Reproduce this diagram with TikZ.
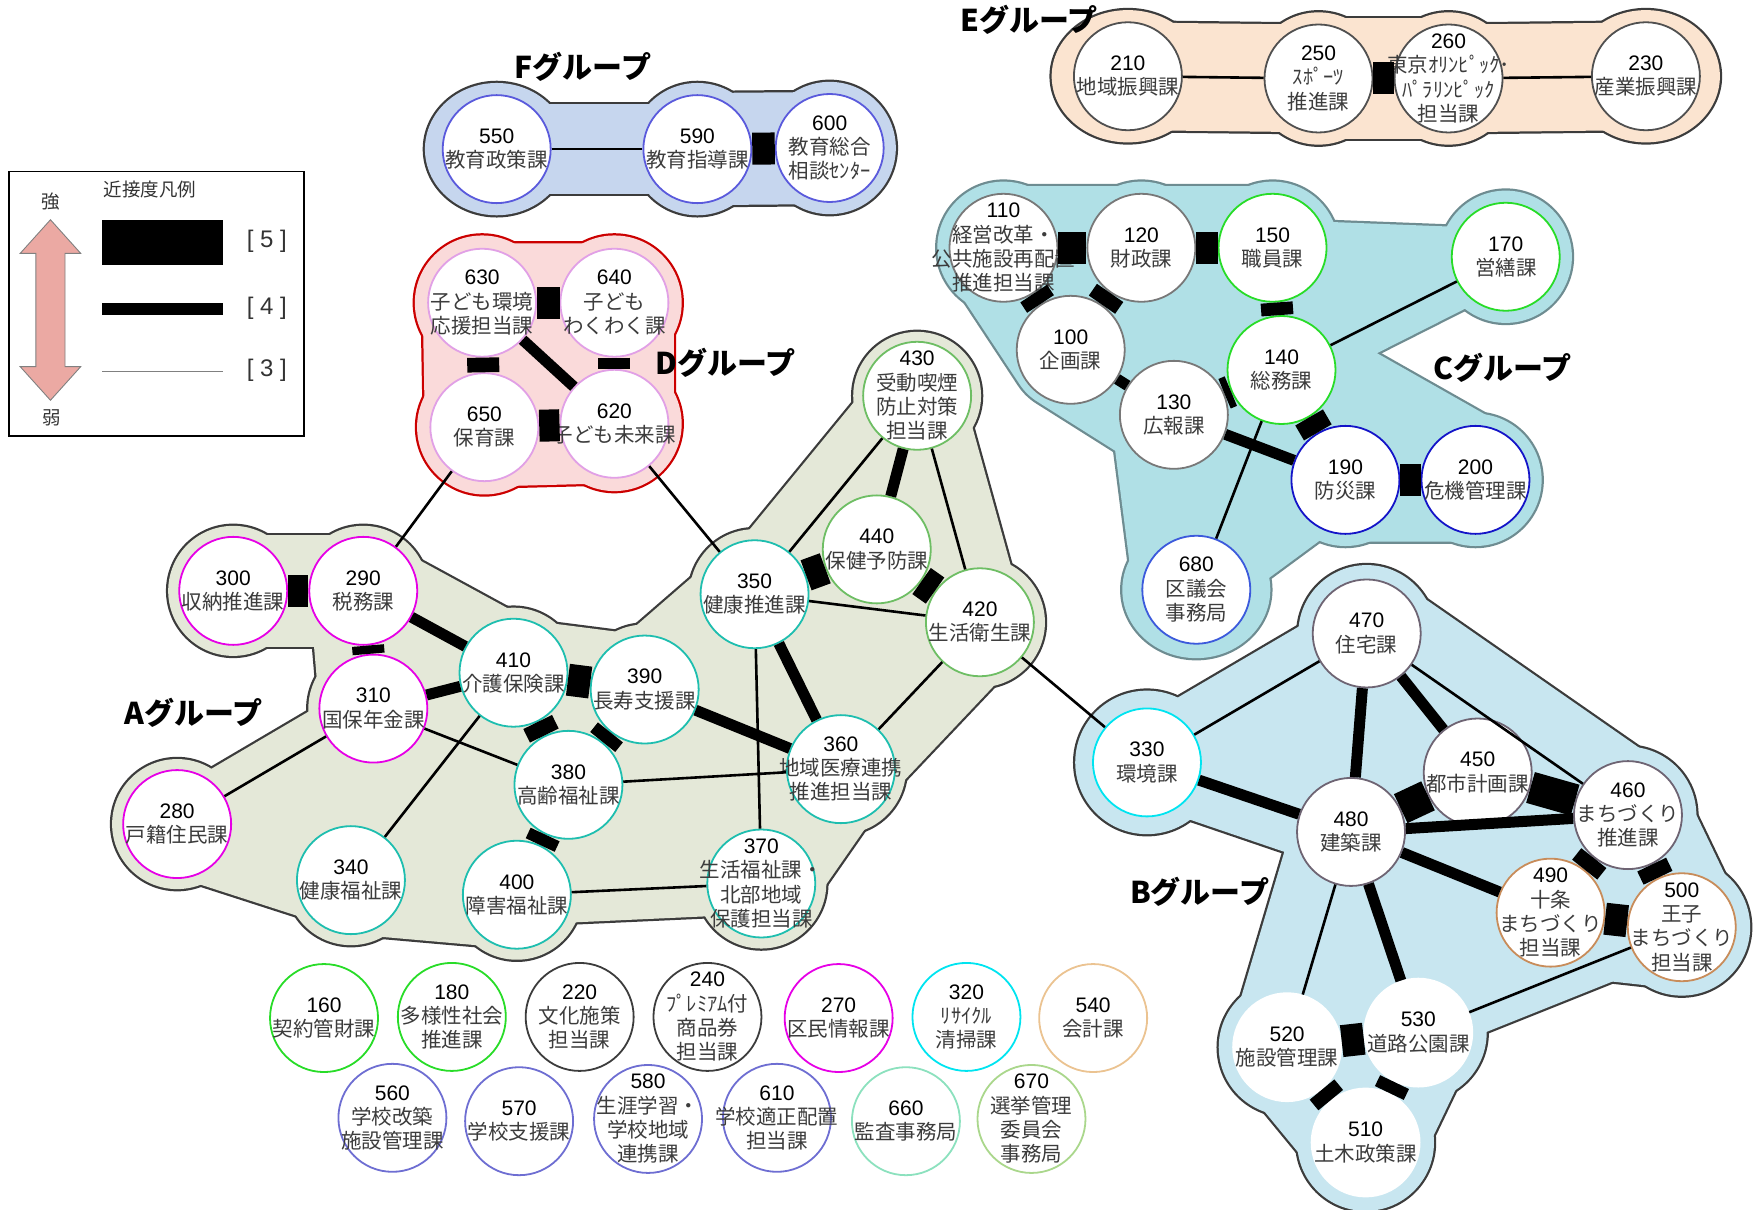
\documentclass[tikz,border=0pt]{standalone}
\usepackage{fontspec}
\setmainfont{Liberation Sans}
\newfontfamily\jp{Noto Sans CJK JP}
\newfontfamily\numf{Liberation Sans}
% group colours
\definecolor{Ffill}{RGB}{198,214,238}
\definecolor{Efill}{RGB}{251,228,208}
\definecolor{Dfill}{RGB}{250,218,218}
\definecolor{Dline}{RGB}{204,0,0}
\definecolor{Cfill}{RGB}{176,224,230}
\definecolor{Cline}{RGB}{110,140,145}
\definecolor{Afill}{RGB}{228,232,216}
\definecolor{Bfill}{RGB}{200,230,240}
\definecolor{gline}{RGB}{60,60,60}
% node outline colours
\definecolor{cF}{RGB}{90,90,220}
\definecolor{cE}{RGB}{80,80,80}
\definecolor{cD}{RGB}{225,160,230}
\definecolor{cgray}{RGB}{120,120,120}
\definecolor{cgreen}{RGB}{40,220,40}
\definecolor{cblue}{RGB}{20,20,200}
\definecolor{cblue2}{RGB}{60,90,220}
\definecolor{cmag}{RGB}{230,0,230}
\definecolor{cteal}{RGB}{30,190,175}
\definecolor{clgreen}{RGB}{110,190,100}
\definecolor{cBgray}{RGB}{110,100,115}
\definecolor{ccyan}{RGB}{0,228,240}
\definecolor{ctan}{RGB}{200,140,90}
\definecolor{cdark}{RGB}{60,60,60}
\definecolor{corange}{RGB}{235,195,145}
\definecolor{cslate}{RGB}{110,110,210}
\definecolor{caqua}{RGB}{140,225,190}
\definecolor{colive}{RGB}{170,215,140}
\definecolor{jptext}{RGB}{60,60,60}
\definecolor{arrowpink}{RGB}{235,169,163}
\newcommand\dept[3]{\node[dept,draw=#2] (n#1) at (p#1) {};
  \node[depttext] (t#1) at (p#1) {{\numf\color{black}\fontsize{21}{24.3}\selectfont #1}\\#3};}
\newcommand\blobc[3]{\fill[#1] (#2) circle[radius=#3];}
\newcommand\blobp[3]{\filldraw[#1,line join=round,line cap=round,line width={2*(#2)*1.1212pt}] #3;}
\newcommand\grpF[2]{%
  \fill[#1] (p550) ellipse[x radius=64+#2,y radius=59+#2];
  \blobc{#1}{p590}{59+#2}\blobc{#1}{p600}{59+#2}
  \blobp{#1}{40+#2}{(p550)--(p590)}
  \blobp{#1}{50+#2}{(p590)--(p600)}}
\newcommand\grpE[2]{%
  \fill[#1] (p210) ellipse[x radius=68+#2,y radius=59+#2];
  \fill[#1] (p230) ellipse[x radius=66+#2,y radius=59+#2];
  \blobc{#1}{p250}{59+#2}\blobc{#1}{p260}{59+#2}
  \blobp{#1}{48+#2}{(p210)--(p250)}
  \blobp{#1}{54+#2}{(p250)--(p260)}
  \blobp{#1}{48+#2}{(p260)--(p230)}}
\newcommand\grpD[2]{%
  \blobc{#1}{p630}{60+#2}\blobc{#1}{p640}{60+#2}\blobc{#1}{p650}{60+#2}\blobc{#1}{p620}{60+#2}
  \blobp{#1}{53+#2}{(p630)--(p640)--(p620)--(p650)--cycle}}
\newcommand\grpC[2]{%
  \blobp{#1}{55+#2}{(p110)--(p120)--(p150)--(p140)--(p200)--(p190)--(p130)--(p100)--cycle}
  \blobc{#1}{p110}{59+#2}\blobc{#1}{p120}{59+#2}\blobc{#1}{p150}{59+#2}
  \blobc{#1}{p190}{59+#2}\blobc{#1}{p200}{59+#2}
  \blobc{#1}{p170}{59+#2}
  \blobp{#1}{25+#2}{(p150)--(p170)--(p140)--cycle}
  \fill[#1] (p680) ellipse[x radius=66+#2,y radius=61+#2];
  \blobp{#1}{56+#2}{(p130)--(p680)}
  \blobp{#1}{30+#2}{(p130)--(p190)--(p680)--cycle}}
\newcommand\grpA[2]{%
  \blobp{#1}{48+#2}{(p290)--(p410)--(p390)--(p350)--(p440)--(p420)--(p360)--(p370)--(p380)--(p400)--(p340)--(p310)--cycle}
  \foreach \q in {300,290,310,410,390,280,380,340,400,350,440,420,360,370}{\blobc{#1}{p\q}{58+#2}}
  \blobc{#1}{p430}{57+#2}
  \blobp{#1}{50+#2}{(p300)--(p290)}
  \blobp{#1}{27+#2}{(p280)--(p340)--(p310)--cycle}
  \blobp{#1}{45+#2}{(p280)--(p340)}
  \blobp{#1}{27+#2}{(p380)--(p400)--(p370)--cycle}
  \blobp{#1}{40+#2}{(p350)--(p430)--(p420)--(p440)--cycle}}
\newcommand\grpB[2]{%
  \blobp{#1}{55+#2}{(p470)--(p460)--(p500)--(p490)--(p480)--cycle}
  \blobp{#1}{52+#2}{(p480)--(p530)--(p510)--(p520)--cycle}
  \blobp{#1}{22+#2}{(p480)--(p490)--(p500)--(p530)--cycle}
  \blobp{#1}{36+#2}{(p330)--(p470)--(p480)--cycle}
  \foreach \q in {470,450,460,480,490,500,520,530,510}{\blobc{#1}{p\q}{61+#2}}
  \blobc{#1}{p330}{64+#2}}
\begin{document}
\begin{tikzpicture}[x=1.1212pt,y=-1.1212pt,
  dept/.style={circle,fill=white,draw,line width=1.8pt,minimum size=108pt,inner sep=0pt},
  depttext/.style={align=center,inner sep=0pt,text=jptext,font=\jp\fontsize{20.5}{24.3}\selectfont},
  wfive/.style={line width=32pt},
  wfour/.style={line width=11pt},
  wthree/.style={line width=2.6pt},
  grplabel/.style={font=\jp\bfseries\fontsize{30}{32}\selectfont,text=black,inner sep=0pt},
  legtext/.style={font=\jp\fontsize{18.5}{21}\selectfont,text=black!80,inner sep=0pt},
  legnum/.style={font=\numf\fontsize{24}{26}\selectfont,text=black!80,inner sep=0pt}]
\useasboundingbox (0,0) rectangle (1568,1079);
% ---------- coordinates
\coordinate (p550) at (443,133); \coordinate (p590) at (622,133); \coordinate (p600) at (740,132);
\coordinate (p210) at (1006,68); \coordinate (p250) at (1176,70); \coordinate (p260) at (1292,70); \coordinate (p230) at (1468,68);
\coordinate (p630) at (430,270); \coordinate (p640) at (548,270); \coordinate (p650) at (432,381); \coordinate (p620) at (548,378);
\coordinate (p110) at (895,221); \coordinate (p120) at (1018,221); \coordinate (p150) at (1135,221); \coordinate (p170) at (1343,229);
\coordinate (p100) at (955,312); \coordinate (p140) at (1143,330); \coordinate (p130) at (1047,370); \coordinate (p190) at (1200,428);
\coordinate (p200) at (1316,428); \coordinate (p680) at (1067,526);
\coordinate (p300) at (208,527); \coordinate (p290) at (324,527); \coordinate (p310) at (333,632); \coordinate (p410) at (458,600);
\coordinate (p390) at (575,615); \coordinate (p280) at (158,735); \coordinate (p380) at (507,700); \coordinate (p340) at (313,785);
\coordinate (p400) at (461,798); \coordinate (p350) at (673,530); \coordinate (p440) at (782,490); \coordinate (p430) at (818,353);
\coordinate (p420) at (874,555); \coordinate (p360) at (750,686); \coordinate (p370) at (679,788);
\coordinate (p470) at (1219,565); \coordinate (p330) at (1023,680); \coordinate (p450) at (1318,689); \coordinate (p460) at (1452,727);
\coordinate (p480) at (1205,742); \coordinate (p490) at (1383,814); \coordinate (p500) at (1500,827); \coordinate (p520) at (1148,934);
\coordinate (p530) at (1265,921); \coordinate (p510) at (1218,1019);
\coordinate (p160) at (289,908); \coordinate (p180) at (403,907); \coordinate (p220) at (517,907); \coordinate (p240) at (631,907);
\coordinate (p270) at (748,908); \coordinate (p320) at (862,907); \coordinate (p540) at (975,908);
\coordinate (p560) at (350,997); \coordinate (p570) at (463,1000); \coordinate (p580) at (578,998); \coordinate (p610) at (693,997);
\coordinate (p660) at (808,1000); \coordinate (p670) at (920,998);
% ---------- group blobs
\grpF{gline}{2}\grpF{Ffill}{0}
\grpE{gline}{2}\grpE{Efill}{0}
\grpD{Dline}{2}\grpD{Dfill}{0}
\grpC{Cline}{2}\grpC{Cfill}{0}
\grpA{gline}{2}\grpA{Afill}{0}
\grpB{gline}{2}\grpB{Bfill}{0}
% ---------- group labels
\node[grplabel] (lF) at (520,60) {Fグループ};
\node[grplabel] (lE) at (918,18) {Eグループ};
\node[grplabel] (lD) at (647,324) {Dグループ};
\node[grplabel] (lC) at (1340,328) {Cグループ};
\node[grplabel] (lA) at (173,636) {Aグループ};
\node[grplabel] (lB) at (1070,795) {Bグループ};
% ---------- legend
\draw[line width=1.4pt] (8,153) rectangle (271,389);
\node[legtext] (lgt) at (134,169) {近接度凡例};
\node[legtext] (lgs) at (45,180) {強};
\node[legtext] (lgw) at (46,373) {弱};
\filldraw[fill=arrowpink,draw=gray,line width=0.9pt] (45,196) -- (72,226) -- (58,226) -- (58,327) -- (72,327) -- (45,357) -- (18,327) -- (32,327) -- (32,226) -- (18,226) -- cycle;
\fill (91,196) rectangle (199,236);
\fill (91,270) rectangle (199,281);
\draw[gray,line width=1.1pt] (91,331) -- (199,331);
\node[legnum] (lg5) at (238,215) {[ 5 ]};
\node[legnum] (lg4) at (238,275) {[ 4 ]};
\node[legnum] (lg3) at (238,330) {[ 3 ]};
% ---------- nodes
\dept{550}{cF}{教育政策課}
\dept{590}{cF}{教育指導課}
\dept{600}{cF}{教育総合\\相談ｾﾝﾀｰ}
\dept{210}{cE}{地域振興課}
\dept{250}{cE}{ｽﾎﾟｰﾂ\\推進課}
\dept{260}{cE}{東京ｵﾘﾝﾋﾟｯｸ･\\ﾊﾟﾗﾘﾝﾋﾟｯｸ\\担当課}
\dept{230}{cE}{産業振興課}
\dept{630}{cD}{子ども環境\\応援担当課}
\dept{640}{cD}{子ども\\わくわく課}
\dept{650}{cD}{保育課}
\dept{620}{cD}{子ども未来課}
\dept{110}{cgray}{経営改革・\\公共施設再配置\\推進担当課}
\dept{120}{cgray}{財政課}
\dept{150}{cgreen}{職員課}
\dept{170}{cgreen}{営繕課}
\dept{100}{cgray}{企画課}
\dept{140}{cgreen}{総務課}
\dept{130}{cgray}{広報課}
\dept{190}{cblue}{防災課}
\dept{200}{cblue}{危機管理課}
\dept{680}{cblue2}{区議会\\事務局}
\dept{300}{cmag}{収納推進課}
\dept{290}{cmag}{税務課}
\dept{310}{cmag}{国保年金課}
\dept{280}{cmag}{戸籍住民課}
\dept{410}{cteal}{介護保険課}
\dept{390}{cteal}{長寿支援課}
\dept{380}{cteal}{高齢福祉課}
\dept{340}{cteal}{健康福祉課}
\dept{400}{cteal}{障害福祉課}
\dept{350}{cteal}{健康推進課}
\dept{360}{cteal}{地域医療連携\\推進担当課}
\dept{370}{cteal}{生活福祉課・\\北部地域\\保護担当課}
\dept{440}{clgreen}{保健予防課}
\dept{430}{clgreen}{受動喫煙\\防止対策\\担当課}
\dept{420}{clgreen}{生活衛生課}
\dept{470}{cBgray}{住宅課}
\dept{330}{ccyan}{環境課}
\dept{450}{cBgray}{都市計画課}
\dept{460}{cBgray}{まちづくり\\推進課}
\dept{480}{cBgray}{建築課}
\dept{490}{ctan}{十条\\まちづくり\\担当課}
\dept{500}{ctan}{王子\\まちづくり\\担当課}
\dept{520}{white}{施設管理課}
\dept{530}{white}{道路公園課}
\dept{510}{white}{土木政策課}
\dept{160}{cgreen}{契約管財課}
\dept{180}{cgreen}{多様性社会\\推進課}
\dept{220}{cdark}{文化施策\\担当課}
\dept{240}{cdark}{ﾌﾟﾚﾐｱﾑ付\\商品券\\担当課}
\dept{270}{cmag}{区民情報課}
\dept{320}{ccyan}{ﾘｻｲｸﾙ\\清掃課}
\dept{540}{corange}{会計課}
\dept{560}{cslate}{学校改築\\施設管理課}
\dept{570}{cslate}{学校支援課}
\dept{580}{cslate}{生涯学習・\\学校地域\\連携課}
\dept{610}{cslate}{学校適正配置\\担当課}
\dept{660}{caqua}{監査事務局}
\dept{670}{colive}{選挙管理\\委員会\\事務局}
% ---------- connectors
\draw[wthree] (n550) -- (n590);
\draw[wfive] (n590) -- (n600);
\draw[wthree] (n210) -- (n250);
\draw[wfive] (n250) -- (n260);
\draw[wthree] (n260) -- (n230);
\draw[wfive] (n630) -- (n640);
\draw[wfive] (n630) -- (n650);
\draw[wfive] (n640) -- (n620);
\draw[wfive] (n650) -- (n620);
\draw[wfour] (n630) -- (n620);
\draw[wthree] (n650) -- (n290);
\draw[wthree] (n620) -- (n350);
\draw[wfive] (n110) -- (n120);
\draw[wfive] (n120) -- (n150);
\draw[wfive] (n110) -- (n100);
\draw[wfive] (n120) -- (n100);
\draw[wfive] (n150) -- (n140);
\draw[wfour] (n100) -- (n130);
\draw[wfive] (n130) -- (n140);
\draw[wfive] (n140) -- (n190);
\draw[wfour] (n130) -- (n190);
\draw[wfive] (n190) -- (n200);
\draw[wthree] (n140) -- (n170);
\draw[wthree] (n140) -- (n680);
\draw[wfive] (n300) -- (n290);
\draw[wfive] (n290) -- (n310);
\draw[wfour] (n290) -- (n410);
\draw[wfour] (n310) -- (n410);
\draw[wfive] (n410) -- (n390);
\draw[wfive] (n410) -- (n380);
\draw[wfive] (n390) -- (n380);
\draw[wfive] (n380) -- (n400);
\draw[wfour] (n390) -- (n360);
\draw[wthree] (n310) -- (n280);
\draw[wthree] (n310) -- (n380);
\draw[wthree] (n410) -- (n340);
\draw[wthree] (n380) -- (n360);
\draw[wthree] (n400) -- (n370);
\draw[wfour] (n350) -- (n360);
\draw[wthree] (n350) -- (n370);
\draw[wthree] (n350) -- (n420);
\draw[wfive] (n350) -- (n440);
\draw[wthree] (n350) -- (n430);
\draw[wfour] (n430) -- (n440);
\draw[wfive] (n440) -- (n420);
\draw[wthree] (n430) -- (n420);
\draw[wthree] (n420) -- (n360);
\draw[wthree] (n420) -- (n330);
\draw[wthree] (n470) -- (n330);
\draw[wfour] (n470) -- (n480);
\draw[wfour] (n470) -- (n450);
\draw[wthree] (n470) -- (n460);
\draw[wfour] (n330) -- (n480);
\draw[wfive] (n480) -- (n450);
\draw[wfive] (n450) -- (n460);
\draw[wfour] (n480) -- (n460);
\draw[wfour] (n480) -- (n490);
\draw[wfive] (n460) -- (n490);
\draw[wfive] (n460) -- (n500);
\draw[wfive] (n490) -- (n500);
\draw[wthree] (n480) -- (n520);
\draw[wfour] (n480) -- (n530);
\draw[wthree] (n500) -- (n530);
\draw[wfive] (n520) -- (n530);
\draw[wfive] (n520) -- (n510);
\draw[wfive] (n530) -- (n510);
\end{tikzpicture}
\end{document}
